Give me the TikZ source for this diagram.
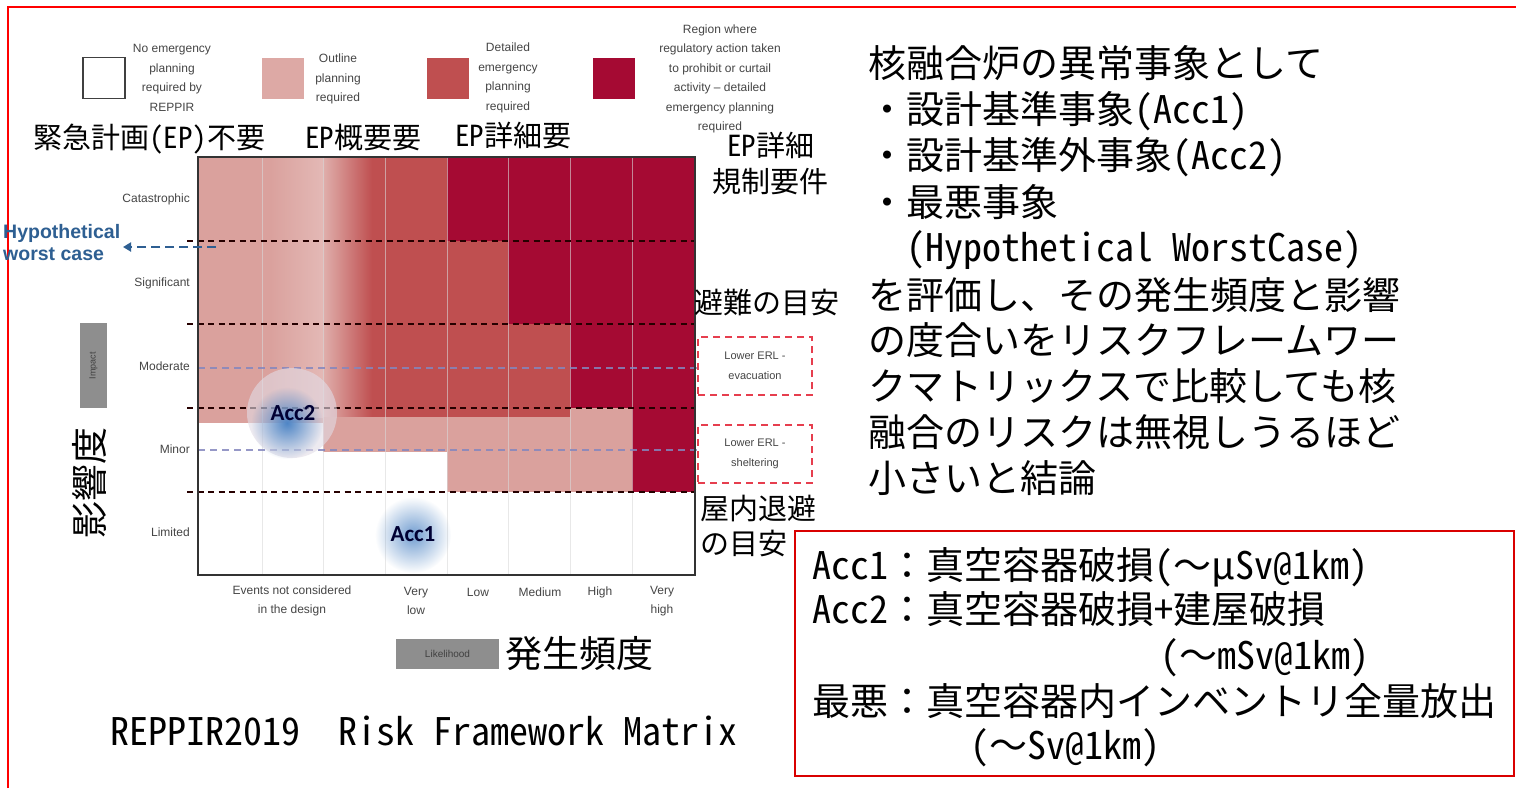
\documentclass[tikz,border=0pt]{standalone}
\usepackage{fontspec}
\setmainfont{Liberation Sans}
\newfontfamily\jp{Noto Sans CJK JP}[RawFeature=+hwid]
\newfontfamily\jpf{Noto Sans CJK JP}
\newcommand{\fw}[1]{{\jpf #1}}
\newfontfamily\accfnt{Carlito}
\usetikzlibrary{fadings,arrows.meta}
\definecolor{lpink}{HTML}{DAA19D}
\definecolor{mred}{HTML}{BF4F50}
\definecolor{dred}{HTML}{A50A33}
\definecolor{lgray}{HTML}{454545}
\definecolor{hblue}{HTML}{2E5F92}
\definecolor{accblue}{HTML}{4F86C6}
\definecolor{halocol}{HTML}{E2DCE6}
\definecolor{boxgray}{HTML}{8E8E8E}
\definecolor{erlred}{HTML}{E63E4E}
\definecolor{ltblue}{HTML}{8487BE}
\tikzfading[name=glow, inner color=transparent!0, outer color=transparent!100]
\begin{document}
\begin{tikzpicture}[x=1pt,y=-1pt,
  jpl/.style={font=\jp\fontsize{38}{46}\selectfont, anchor=base west, inner sep=0},
  jps/.style={font=\jp\fontsize{29}{35}\selectfont, anchor=base west, inner sep=0},
  small/.style={font=\fontsize{12}{19.5}\selectfont, text=lgray, align=center, inner sep=0},
  ylab/.style={font=\fontsize{12}{14}\selectfont, text=lgray, anchor=east, inner sep=0},
  legbox/.style={minimum width=42, minimum height=41, inner sep=0},
  blkdash/.style={draw=black!85!red, line width=2.2, dash pattern=on 6 off 4.5},
  bludash/.style={draw=ltblue, opacity=0.85, line width=1.3, dash pattern=on 7 off 5},
  erlbox/.style={draw=erlred, line width=1.8, dash pattern=on 7 off 5, minimum width=114, minimum height=58, inner sep=0, align=center, font=\fontsize{11}{20}\selectfont, text=lgray},
  accl/.style={font=\accfnt\bfseries\fontsize{23}{23}\selectfont, text=black!80!blue, inner sep=0}]
\useasboundingbox (0,0) rectangle (1516,788);
\fill[white] (0,0) rectangle (1516,788);
% outer red frame
\draw[red, line width=2] (8,788) -- (8,7) -- (1516,7);

% ---------- legend ----------
\node[legbox, draw=black!75, line width=1.8] (lg1) at (104,78) {};
\node[legbox, fill=lpink!92!white] (lg2) at (283,78) {};
\node[legbox, fill=mred] (lg3) at (448,78) {};
\node[legbox, fill=dred] (lg4) at (614,78) {};
\node[small] (lt1) at (172,78) {No emergency\\planning\\required by\\REPPIR};
\node[small] (lt2) at (338,79) {Outline\\planning\\required};
\node[small] (lt3) at (508,78) {Detailed\\emergency\\planning\\required};
\node[small] (lt4) at (720,79) {Region where\\regulatory action taken\\to prohibit or curtail\\activity -- detailed\\emergency  planning\\required};

% ---------- matrix fills ----------
\fill[lpink] (198,157) rectangle (323,423);
\fill[mred] (323,157) rectangle (447,417);
\shade[left color=lpink, right color=lpink!75!white] (270,157) rectangle (323,417);
\shade[left color=lpink!85!white, right color=mred] (323,157) rectangle (372,417);
\fill[lpink] (323,417) rectangle (447,452);
\fill[dred] (447,157) rectangle (695,241);
\fill[mred] (447,241) rectangle (508,417);
\fill[dred] (508,241) rectangle (695,324);
\fill[mred] (508,324) rectangle (570,417);
\fill[dred] (570,324) rectangle (695,408);
\fill[lpink] (447,417) rectangle (570,492);
\fill[lpink] (570,408) rectangle (632,492);
\fill[dred] (632,408) rectangle (695,492);

% column lines
\foreach \cx in {262,323,385,447,508,570,632}
  \draw[color=black!15, opacity=0.6, line width=1] (\cx,157) -- (\cx,575);

% dashed lines
\foreach \ry in {241,324,408,492}
  \draw[blkdash] (187,\ry) -- (695,\ry);
\draw[bludash] (198,368) -- (698,368);
\draw[bludash] (198,450) -- (698,450);

% Acc glows
\fill[halocol, opacity=0.6] (292,413) circle (45);
\fill[accblue, path fading=glow] (287,423) circle (36);
\fill[accblue!80, path fading=glow] (413,535) circle (38);
\node[accl] (acc2) at (293,413) {Acc2};
\node[accl] (acc1) at (413,534) {Acc1};

% matrix border
\draw[black!80, line width=2] (198,157) rectangle (695,575);

% y labels
\node[ylab] (yc) at (190,199) {Catastrophic};
\node[ylab] (ys) at (190,283) {Significant};
\node[ylab] (ym) at (190,366) {Moderate};
\node[ylab] (yn) at (190,449) {Minor};
\node[ylab] (yl) at (190,532) {Limited};

% hypothetical worst case
\node[font=\bfseries\fontsize{19.5}{22}\selectfont, text=hblue, anchor=west, align=left, inner sep=0] (hyp) at (3,243) {Hypothetical\\worst case};
\coordinate (hwa) at (216,247);
\coordinate (hwb) at (123,247);
\draw[hblue, line width=2.6, dash pattern=on 9 off 5, -{Triangle[length=8,width=9]}] (hwa) -- (hwb);

% impact box and axis label
\node[fill=boxgray, minimum width=27, minimum height=85, inner sep=0] (imp) at (93.5,365.5) {};
\node[rotate=90, font=\fontsize{9}{9}\selectfont, text=black!75, inner sep=0] (impt) at (imp) {Impact};
\node[rotate=90, font=\jp\fontsize{37}{37}\selectfont, inner sep=0] (eik) at (89,483) {影響度};

% x labels
\node[small] (x1) at (292,601) {Events not considered\\in the design};
\node[small] (x2) at (416,601) {Very\\low};
\node[small] (x3) at (478,592) {Low};
\node[small] (x4) at (540,592) {Medium};
\node[small] (x5) at (600,592) {High};
\node[small] (x6) at (662,601) {Very\\high};
\node[fill=boxgray, minimum width=103, minimum height=30, inner sep=0, font=\fontsize{10}{10}\selectfont, text=black!75] (lik) at (447.5,654) {Likelihood};
\node[font=\jp\fontsize{37}{37}\selectfont, anchor=base west, inner sep=0] (hassei) at (505,667) {発生頻度};

% Japanese labels on the left panel
\node[jps] (j1) at (33,148) {緊急計画(EP)不要};
\node[jps] (j2) at (305,148) {EP概要要};
\node[jps] (j3) at (455,146) {EP詳細要};
\node[jps] (j4) at (727,156) {EP詳細};
\node[jps] (j5) at (712,192) {規制要件};
\node[jps] (j6) at (694,313) {避難の目安};
\node[jps] (j7) at (700,519) {屋内退避};
\node[jps] (j8) at (700,554) {の目安};

% ERL boxes
\node[erlbox] (evac) at (755,366) {Lower ERL -\\evacuation};
\node[erlbox] (shel) at (755,454) {Lower ERL -\\sheltering};

% bottom caption
\node[jpl] (cap) at (110,745) {REPPIR2019\fw{　}Risk Framework Matrix};

% right text block
\node[jpl] (r1) at (868,77) {核融合炉の異常事象として};
\node[jpl] (r2) at (868,123) {・設計基準事象(Acc1)};
\node[jpl] (r3) at (868,169) {・設計基準外事象(Acc2)};
\node[jpl] (r4) at (868,216) {・最悪事象};
\node[jpl] (r5) at (868,261) {\fw{　}(Hypothetical WorstCase)};
\node[jpl] (r6) at (868,309) {を評価し、その発生頻度と影響};
\node[jpl] (r7) at (868,354) {の度合いをリスクフレームワー};
\node[jpl] (r8) at (868,400) {クマトリックスで比較しても核};
\node[jpl] (r9) at (868,446) {融合のリスクは無視しうるほど};
\node[jpl] (r10) at (868,492) {小さいと結論};

% red box
\draw[red!85!black, line width=1.6] (795,531) rectangle (1514,776);
\node[jpl] (b1) at (812,579) {Acc1\fw{：}真空容器破損(\fw{～}\fw{μ}Sv@1km)};
\node[jpl] (b2) at (812,623) {Acc2\fw{：}真空容器破損+建屋破損};
\node[jpl] (b3) at (1160,669) {(\fw{～}mSv@1km)};
\node[jpl] (b4) at (812,715) {最悪\fw{：}真空容器内インベントリ全量放出};
\node[jpl] (b5) at (970,759) {(\fw{～}Sv@1km)};
\end{tikzpicture}
\end{document}
